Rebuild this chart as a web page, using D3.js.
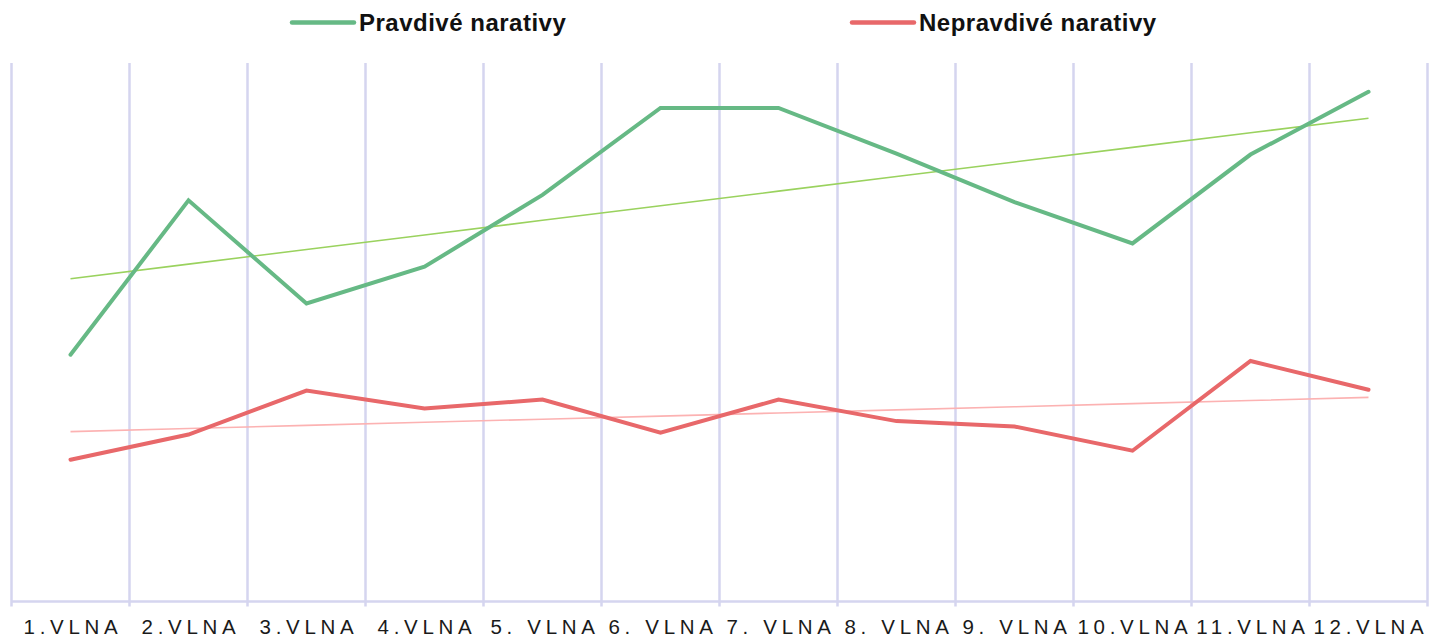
<!DOCTYPE html>
<html>
<head>
<meta charset="utf-8">
<script src="https://cdn.jsdelivr.net/npm/d3@7"></script>
<style>
  html, body { margin: 0; padding: 0; background: #fff; }
  svg { display: block; }
</style>
</head>
<body>
<svg id="chart" width="1437" height="638"></svg>
<script>
// data
const waves = ["1.VLNA", "2.VLNA", "3.VLNA", "4.VLNA", "5. VLNA", "6. VLNA",
               "7. VLNA", "8. VLNA", "9. VLNA", "10.VLNA", "11.VLNA", "12.VLNA"];
const pravdive = [27.5, 44.7, 33.2, 37.3, 45.3, 55.0, 55.0, 49.9, 44.5, 39.9, 49.8, 56.8];
const nepravdive = [15.8, 18.6, 23.5, 21.5, 22.5, 18.8, 22.5, 20.1, 19.5, 16.8, 26.8, 23.6];
const seriesNames = ["Pravdivé narativy", "Nepravdivé narativy"];

const colGreen = "#66b985";
const colRed = "#e8686a";
const colGreenTrend = "#9ad25e";
const colRedTrend = "#fcb2b2";
const colGrid = "#d5d5ef";

const svg = d3.select("#chart");

const x = d3.scaleBand().domain(waves).range([11.5, 1427.5]);
const y = d3.scaleLinear().domain([0, 60]).range([601.5, 63]);
const cx = d => x(d) + x.bandwidth() / 2;

// vertical grid lines at band edges
const edges = waves.map(d => x(d)).concat([x.range()[1]]);
svg.append("g").selectAll("line")
  .data(edges)
  .enter().append("line")
  .attr("x1", d => d).attr("x2", d => d)
  .attr("y1", y(60)).attr("y2", 606.5)
  .attr("stroke", colGrid).attr("stroke-width", 2.5);

// base line
svg.append("line")
  .attr("x1", x.range()[0]).attr("x2", x.range()[1])
  .attr("y1", y(0)).attr("y2", y(0))
  .attr("stroke", colGrid).attr("stroke-width", 2.5);

// x labels
svg.append("g").selectAll("text")
  .data(waves)
  .enter().append("text")
  .attr("x", d => cx(d) + 2.5)
  .attr("y", 634)
  .attr("text-anchor", "middle")
  .attr("font-family", "Liberation Sans, Arial, sans-serif")
  .attr("font-size", 20.5)
  .attr("letter-spacing", 4.7)
  .attr("fill", "#1a1a1a")
  .text(d => d);

// linear trend (least squares)
function trend(vals) {
  const idx = vals.map((v, i) => i);
  const mx = d3.mean(idx), my = d3.mean(vals);
  const sxy = d3.sum(idx, i => (i - mx) * (vals[i] - my));
  const sxx = d3.sum(idx, i => (i - mx) * (i - mx));
  const b = sxy / sxx, a = my - b * mx;
  return vals.map((v, i) => a + b * i);
}

const line = d3.line()
  .x((d, i) => cx(waves[i]))
  .y(d => y(d));

svg.append("path").datum(trend(pravdive))
  .attr("d", line).attr("fill", "none")
  .attr("stroke", colGreenTrend).attr("stroke-width", 1.6);
svg.append("path").datum(trend(nepravdive))
  .attr("d", line).attr("fill", "none")
  .attr("stroke", colRedTrend).attr("stroke-width", 1.6);

svg.append("path").datum(pravdive)
  .attr("d", line).attr("fill", "none")
  .attr("stroke", colGreen).attr("stroke-width", 4)
  .attr("stroke-linejoin", "miter").attr("stroke-linecap", "round");
svg.append("path").datum(nepravdive)
  .attr("d", line).attr("fill", "none")
  .attr("stroke", colRed).attr("stroke-width", 4)
  .attr("stroke-linejoin", "miter").attr("stroke-linecap", "round");

// legend
const legend = [
  { name: seriesNames[0], color: colGreen, x: 292 },
  { name: seriesNames[1], color: colRed, x: 852 }
];
const lg = svg.append("g").selectAll("g")
  .data(legend)
  .enter().append("g")
  .attr("transform", d => "translate(" + d.x + ",0)");
lg.append("line")
  .attr("x1", 0).attr("x2", 62)
  .attr("y1", 22.5).attr("y2", 22.5)
  .attr("stroke", d => d.color).attr("stroke-width", 4.5)
  .attr("stroke-linecap", "round");
lg.append("text")
  .attr("x", 67).attr("y", 31)
  .attr("font-family", "Liberation Sans, Arial, sans-serif")
  .attr("font-weight", "bold")
  .attr("font-size", 24)
  .attr("letter-spacing", 0.5)
  .attr("fill", "#111")
  .text(d => d.name);
</script>
</body>
</html>
